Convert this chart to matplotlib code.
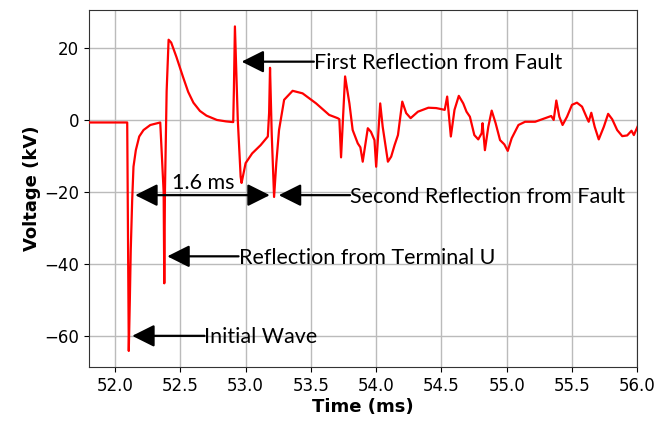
import matplotlib
matplotlib.use('Agg')
import matplotlib.pyplot as plt

# Voltage trace at the measuring terminal (time in ms, voltage in kV)
time_ms = [
    51.80, 52.093, 52.105, 52.113, 52.120, 52.131, 52.141, 52.159, 52.185, 52.218, 52.270, 52.346,
    52.372, 52.377, 52.382, 52.395, 52.410, 52.430, 52.470, 52.520, 52.560, 52.600, 52.650,
    52.700, 52.780, 52.850, 52.905, 52.910, 52.918, 52.940, 52.962, 52.969, 53.000, 53.050, 53.115,
    53.170, 53.180, 53.187, 53.200, 53.218, 53.235, 53.256, 53.295, 53.360, 53.436, 53.540,
    53.640, 53.705, 53.718, 53.731, 53.762, 53.795, 53.820, 53.859, 53.879, 53.897, 53.936,
    53.960, 53.987, 54.000, 54.031, 54.050, 54.090, 54.115, 54.141, 54.167, 54.200, 54.230,
    54.264, 54.320, 54.400, 54.460, 54.500, 54.525, 54.544, 54.572, 54.600, 54.633, 54.667,
    54.692, 54.718, 54.752, 54.782, 54.808, 54.815, 54.833, 54.859, 54.885, 54.915, 54.949,
    54.982, 55.008, 55.038, 55.090, 55.141, 55.218, 55.295, 55.341, 55.360, 55.380, 55.403,
    55.428, 55.462, 55.500, 55.538, 55.577, 55.615, 55.628, 55.648, 55.674, 55.705, 55.744,
    55.777, 55.808, 55.846, 55.885, 55.923, 55.956, 55.974, 56.008,
]
voltage_kv = [
    -0.7, -0.7, -64.2, -50.2, -36.3, -22.3, -13.0, -8.4, -4.6, -2.8, -1.4, -0.7,
    -20.0, -45.4, -20.0, 8.0, 22.3, 21.5, 17.5, 12.0, 7.8, 4.8, 2.5,
    1.2, 0.0, -0.4, -0.6, 8.0, 26.0, 0.0, -15.8, -17.5, -12.0, -9.3, -7.0,
    -4.6, 2.0, 14.5, -4.0, -21.4, -12.0, -2.8, 5.6, 8.1, 7.4, 4.6,
    1.4, 0.5, 0.2, -10.4, 12.1, 4.6, -2.8, -6.5, -7.6, -11.6, -2.3,
    -3.3, -5.6, -13.0, 4.6, -1.9, -11.6, -10.2, -7.0, -4.2, 5.1, 1.9,
    0.5, 2.3, 3.4, 3.3, 3.0, 2.8, 6.5, -4.6, 2.8, 6.7, 4.6,
    2.3, 0.9, -4.2, -5.4, -3.7, -0.9, -8.4, -1.9, 2.6, -0.9, -5.6,
    -6.8, -8.6, -5.1, -1.4, -0.5, -0.5, 0.5, 1.1, 0.0, 5.4, 0.9,
    -1.4, 0.9, 4.2, 4.8, 3.7, 0.5, -0.5, 2.0, -1.9, -5.4, -1.9,
    1.7, 0.2, -2.8, -4.5, -4.3, -3.0, -4.2, -1.4,
]

# (label, arrow tip, text start) for each marked wave
labels = ['Initial Wave', 'Reflection from Terminal U',
          'First Reflection from Fault', 'Second Reflection from Fault']
tips = [(52.131, -60.0), (52.40, -37.9), (52.969, 16.2), (53.254, -20.9)]
text_starts = [(52.685, -60.0), (52.946, -37.9), (53.523, 16.2), (53.80, -20.9)]

span_label = '1.6 ms'
span_ends = (52.154, 53.185)
span_v = -20.9

fig = plt.figure(figsize=(6.59, 4.24), dpi=100)
ax = fig.add_axes([0.135, 0.134, 0.832, 0.842])

ax.plot(time_ms, voltage_kv, color='red', lw=1.6, zorder=3,
        solid_joinstyle='round', solid_capstyle='round')

ax.set_xlim(51.8, 56.0)
ax.set_xticks([52.0, 52.5, 53.0, 53.5, 54.0, 54.5, 55.0, 55.5, 56.0])
ax.set_yticks([-60, -40, -20, 0, 20])
ax.grid(True, color='#bbbbbb', lw=1.0)
ax.tick_params(labelsize=12)
ax.set_xlabel('Time (ms)', fontsize=13, fontweight='bold', labelpad=2)
ax.set_ylabel('Voltage (kV)', fontsize=13, fontweight='bold', labelpad=2)
for s in ax.spines.values():
    s.set_color('#333333')

arrow = dict(arrowstyle='-|>', mutation_scale=34, lw=1.6, color='black',
             shrinkA=0, shrinkB=0)
afont = dict(family=['Lato', 'DejaVu Sans'], fontsize=15.5)

for lab, tip, start in zip(labels, tips, text_starts):
    ax.annotate('', xy=tip, xytext=start, arrowprops=arrow, zorder=4)
    ax.text(start[0], start[1] - 0.4, lab, ha='left', va='center', zorder=5, **afont)

ax.annotate('', xy=(span_ends[0], span_v), xytext=(span_ends[1], span_v),
            arrowprops=dict(arrow, arrowstyle='<|-|>'), zorder=4)
ax.text(52.673, -19.25, span_label, ha='center', va='baseline', zorder=5, **afont)

fig.savefig('out.png', dpi=100)
